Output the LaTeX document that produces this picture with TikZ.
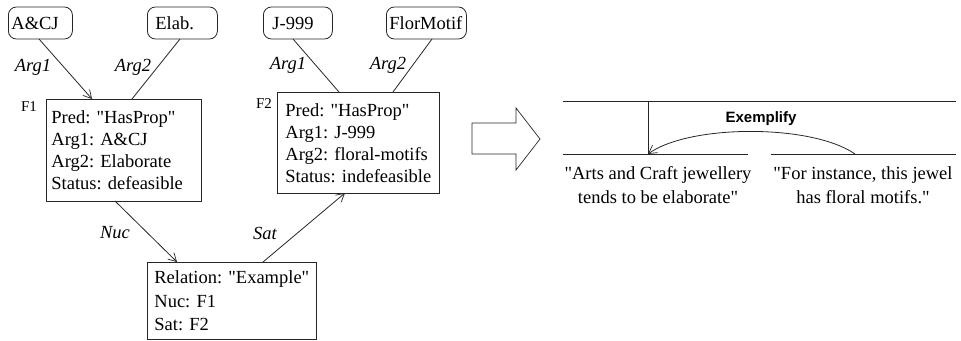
\documentclass[tikz,border=0pt]{standalone}
\usepackage{fontspec}
\setmainfont{Liberation Serif}[Ligatures=TeXOff]
\setsansfont{Liberation Sans}
\usetikzlibrary{arrows.meta}
\frenchspacing
\hyphenpenalty=10000
\exhyphenpenalty=10000
\tikzset{
  ln/.style={line width=0.8pt, draw=black!85},
  arr/.style={ln, -{Straight Barb[length=8pt,width=9pt,line width=0.7pt]}},
  topbox/.style={ln, rounded corners=8pt, minimum height=32pt, inner ysep=0pt, align=left, anchor=west, font=\fontsize{18.5}{22}\selectfont},
  fbox/.style={ln, anchor=north west, align=left, inner ysep=0pt, font=\fontsize{18.5}{22}\selectfont},
  lab/.style={font=\fontsize{18.5}{22}\selectfont\itshape},
  flab/.style={font=\fontsize{15}{18}\selectfont},
  quote/.style={align=center, font=\fontsize{18.5}{24}\selectfont},
}
\begin{document}
\begin{tikzpicture}[x=1pt,y=-1pt]
\useasboundingbox (0,0) rectangle (961,340);
% top boxes
\node[topbox, inner xsep=3pt, text width=58pt] (acj) at (8,23) {A\&CJ};
\node[topbox, inner xsep=8pt, text width=54pt] (elab) at (147,23) {Elab.};
\node[topbox, inner xsep=9pt, text width=51pt] (j999) at (263,23) {J-999};
\node[topbox, inner xsep=3pt, text width=74pt] (flor) at (386,23) {FlorMotif};
% proposition boxes
\node[fbox, inner xsep=5pt, text width=145pt, minimum height=102pt] (f1) at (46,99)
  {Pred: "HasProp"\\Arg1: A\&CJ\\Arg2: Elaborate\\Status: defeasible};
\node[fbox, inner xsep=8pt, text width=146pt, minimum height=101pt] (f2) at (277,92)
  {Pred: "HasProp"\\Arg1: J-999\\Arg2: floral-motifs\\Status: indefeasible};
\node[fbox, inner xsep=7pt, text width=155pt, minimum height=77pt, font=\fontsize{18.5}{23.5}\selectfont] (rel) at (147,262)
  {Relation: "Example"\\Nuc: F1\\Sat: F2};
\node[flab] (f1l) at (29,107) {F1};
\node[flab] (f2l) at (264,104) {F2};
% connectors
\coordinate (acjb) at (39,39); \coordinate (f1a) at (92,99);
\coordinate (elabb) at (180,39); \coordinate (f1b) at (132,99);
\coordinate (j999b) at (293,39); \coordinate (f2a) at (339,92);
\coordinate (florb) at (432,39); \coordinate (f2b) at (393,92);
\coordinate (f1s) at (115,201); \coordinate (relA) at (177,262);
\coordinate (relB) at (263,262); \coordinate (f2s) at (345,193);
\draw[arr] (acjb) -- (f1a);
\draw[ln] (elabb) -- (f1b);
\draw[ln] (j999b) -- (f2a);
\draw[ln] (florb) -- (f2b);
\draw[arr] (f1s) -- (relA);
\draw[arr] (relB) -- (f2s);
\node[lab] (l1) at (33,67) {Arg1};
\node[lab] (l2) at (133,67) {Arg2};
\node[lab] (l3) at (288,65) {Arg1};
\node[lab] (l4) at (388,65) {Arg2};
\node[lab] (l5) at (115,233) {Nuc};
\node[lab] (l6) at (265,233) {Sat};
% big hollow arrow
\draw[ln, line width=0.7pt] (472,123) -- (516,123) -- (516,108) -- (540,139) -- (516,170) -- (516,154) -- (472,154) -- cycle;
% RST diagram
\draw[ln] (563,101) -- (956,101);
\draw[ln] (648,101) -- (648,154);
\draw[ln] (563,154) -- (748,154);
\draw[ln] (771,154) -- (956,154);
\coordinate (sat) at (855,154);
\coordinate (nuc) at (648,154);
\draw[arr] (sat) .. controls (812,124) and (690,124) .. (nuc);
\node[font=\sffamily\bfseries\fontsize{15}{18}\selectfont] (ex) at (761,119) {Exemplify};
\node[quote] (q1) at (658,185) {"Arts and Craft jewellery\\ tends to be elaborate"};
\node[quote] (q2) at (863,185) {"For instance, this jewel\\ has floral motifs."};
\end{tikzpicture}
\end{document}
